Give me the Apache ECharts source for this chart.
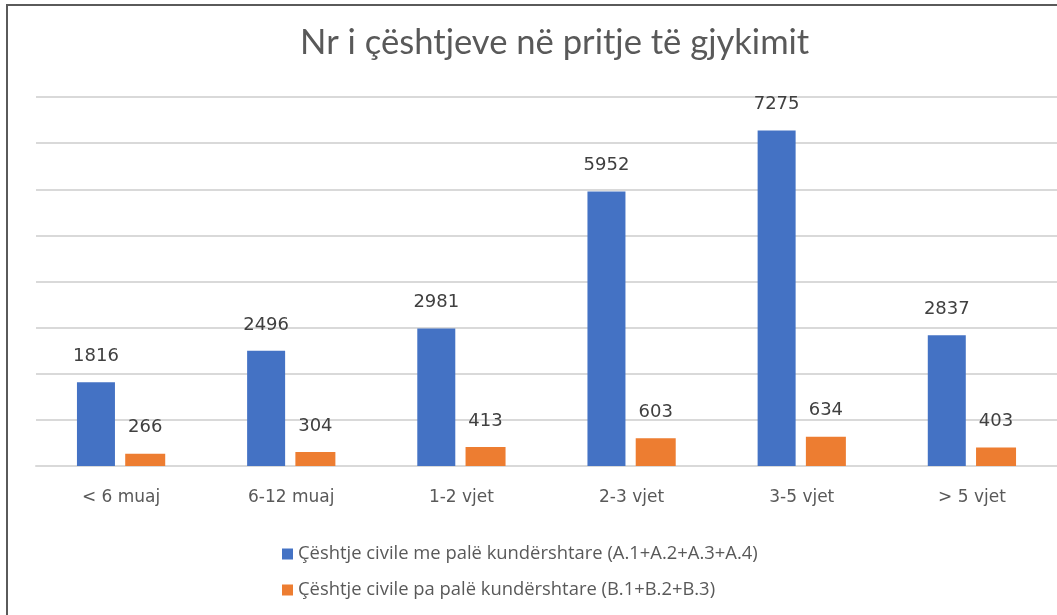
<!DOCTYPE html>
<html>
<head>
<meta charset="utf-8">
<script src="https://cdn.jsdelivr.net/npm/echarts@6/dist/echarts.min.js"></script>
<style>
  html, body { margin: 0; padding: 0; background: #fff; }
  #chart { width: 1057px; height: 615px; }
</style>
</head>
<body>
<div id="chart"></div>
<script>
const categories = ["< 6 muaj", "6-12 muaj", "1-2 vjet", "2-3 vjet", "3-5 vjet", "> 5 vjet"];
const contested = [1816, 2496, 2981, 5952, 7275, 2837];
const uncontested = [266, 304, 413, 603, 634, 403];
const seriesNames = [
  "Çështje civile me palë kundërshtare (A.1+A.2+A.3+A.4)",
  "Çështje civile pa palë kundërshtare (B.1+B.2+B.3)"
];

const chart = echarts.init(document.getElementById("chart"), null, { renderer: "canvas" });

const labelStyle = {
  show: true,
  position: "top",
  distance: 17,
  color: "#404040",
  fontSize: 18,
  fontFamily: "DejaVu Sans"
};

chart.setOption({
  animation: false,
  title: {
    text: "Nr i çështjeve në pritje të gjykimit",
    left: 295,
    top: 20,
    textStyle: { color: "#595959", fontSize: 34.6, fontWeight: "normal", fontFamily: "Lato" }
  },
  graphic: [{
    type: "rect",
    shape: { x: 7, y: 5, width: 1100, height: 700 },
    style: { fill: "none", stroke: "#5a5a5a", lineWidth: 2 },
    silent: true
  }],
  legend: {
    orient: "vertical",
    left: 277,
    top: 540,
    itemWidth: 11,
    itemHeight: 11,
    itemGap: 18,
    icon: "rect",
    textStyle: { color: "#595959", fontSize: 18.4, fontFamily: "Open Sans" }
  },
  grid: { left: 36, top: 97, width: 1034, bottom: 149 },
  xAxis: {
    type: "category",
    data: categories,
    axisTick: { show: false },
    axisLine: { lineStyle: { color: "#d9d9d9", width: 2 } },
    axisLabel: { color: "#595959", fontSize: 17, margin: 23, fontFamily: "DejaVu Sans" }
  },
  yAxis: {
    type: "value",
    min: 0,
    max: 8000,
    interval: 1000,
    axisLabel: { show: false },
    axisLine: { show: false },
    axisTick: { show: false },
    splitLine: { lineStyle: { color: "#d9d9d9", width: 2 } }
  },
  series: [
    {
      name: seriesNames[0],
      type: "bar",
      data: contested,
      barWidth: 38,
      barGap: "27%",
      itemStyle: { color: "#4472c4" },
      label: labelStyle
    },
    {
      name: seriesNames[1],
      type: "bar",
      data: uncontested,
      barWidth: 40,
      itemStyle: { color: "#ed7d31" },
      label: labelStyle
    }
  ]
});
</script>
</body>
</html>
